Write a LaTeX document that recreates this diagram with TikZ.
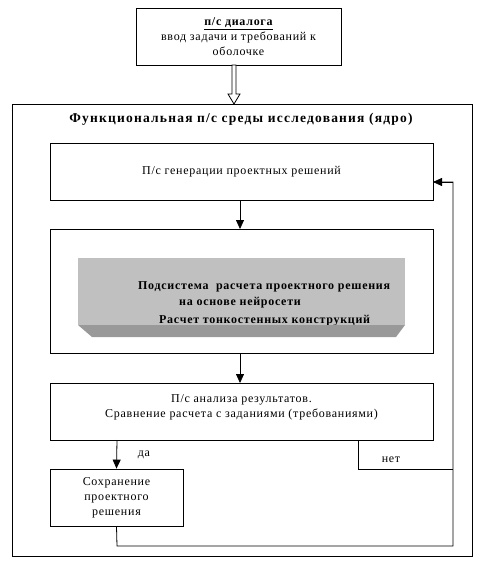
\documentclass[tikz,border=0pt]{standalone}
\usepackage{fontspec}
\setmainfont{Liberation Serif}[LetterSpace=6]
\usetikzlibrary{arrows.meta}
\tikzset{
  box/.style={draw, line width=0.8pt, align=center, inner sep=0pt, font=\fontsize{12}{15}\selectfont},
  conn/.style={draw, line width=0.8pt},
  arr/.style={conn, -{Triangle[width=8pt,length=9pt]}},
  lbl/.style={inner sep=0pt, font=\fontsize{12}{15}\selectfont},
  graytxt/.style={inner sep=0pt, anchor=base west, font=\fontsize{12}{14}\bfseries\selectfont},
}
\begin{document}
\begin{tikzpicture}[x=1pt,y=-1pt]
\useasboundingbox (0,0) rectangle (484,565);
% dialog box
\node[box, minimum width=205pt, minimum height=57pt] (dialog) at (238.5,36.5)
  {\textbf{\underline{п/с диалога}}\\ввод задачи и требований к\\оболочке};
% outer frame
\node[box, minimum width=460pt, minimum height=452pt] (frame) at (242,330) {};
\node[inner sep=0pt, font=\fontsize{13.5}{15}\bfseries\addfontfeatures{LetterSpace=9}\selectfont] (title) at (241,119) {Функциональная п/с среды исследования (ядро)};
% hollow arrow
\draw[line width=0.8pt, fill=white] (232,65) -- (236,65) -- (236,94) -- (240,94) -- (234,104) -- (228,94) -- (232,94) -- cycle;
% generation
\node[box, minimum width=383pt, minimum height=57pt] (gen) at (241.5,171.5) {П/с генерации проектных решений};
% calc outer
\node[box, minimum width=383pt, minimum height=124pt] (calc) at (241.5,291) {};
% gray 3D box
\fill[fill={rgb,255:red,192;green,192;blue,192}] (78,258) rectangle (405,325);
\node[graytxt] (c1) at (138,289) {Подсистема \ расчета проектного решения};
\node[graytxt] (c2) at (179,305) {на основе нейросети};
\begin{scope}
\clip (78,258) rectangle (405,325);
\node[graytxt] (c3) at (159,323.5) {Расчет тонкостенных конструкций};
\end{scope}
\fill[fill={rgb,255:red,153;green,153;blue,153}] (78,325) -- (405,325) -- (396,337) -- (92,337) -- cycle;
% analysis
\node[box, minimum width=383pt, minimum height=57pt, text depth=10pt] (anal) at (241.5,411.5) {П/с анализа результатов.\\Сравнение расчета с заданиями (требованиями)};
% save
\node[box, minimum width=133pt, minimum height=57pt] (save) at (116.5,497.5) {Сохранение\\проектного\\решения};
% connectors
\coordinate (g1) at (240,200);
\coordinate (g2) at (240,229);
\draw[arr] (g1) -- (g2);
\coordinate (c4) at (240,353);
\coordinate (c5) at (240,383);
\draw[arr] (c4) -- (c5);
\coordinate (y1) at (117,440);
\draw[arr] (y1) -- (save.north);
\node[lbl] (yes) at (144,455) {да};
\coordinate (n1) at (358,440);
\coordinate (n2) at (358,469);
\coordinate (n3) at (453,469);
\draw[conn] (n1) -- (n2) -- (n3);
\node[lbl] (no) at (391,460) {нет};
\coordinate (s1) at (117,546);
\coordinate (s2) at (453,546);
\coordinate (s3) at (453,182);
\coordinate (s4) at (433,182);
\draw[conn] (save.south) -- (s1) -- (s2) -- (s3) -- (s4);
\draw[arr] (s3) -- (s4);
\end{tikzpicture}
\end{document}
